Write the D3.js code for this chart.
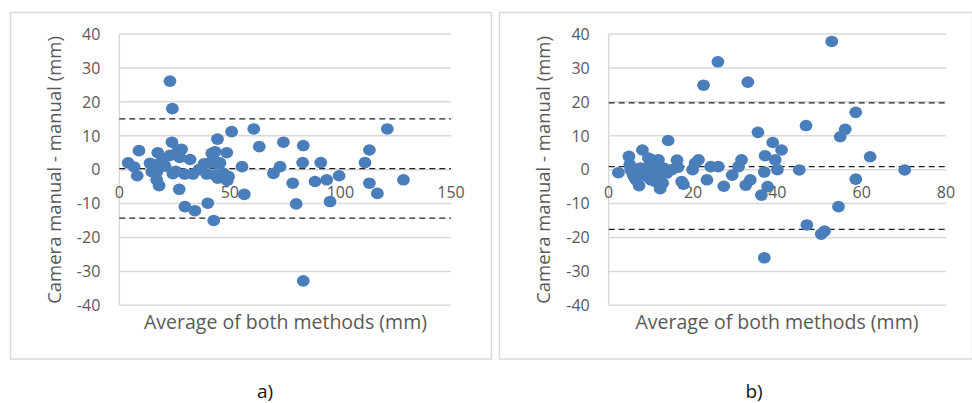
<!DOCTYPE html>
<html>
<head>
<meta charset="utf-8">
<script src="https://cdn.jsdelivr.net/npm/d3@7"></script>
<style>
  body { margin: 0; background: white; }
  text { font-family: "Open Sans", "Noto Sans", sans-serif; }
</style>
</head>
<body>
<div id="chart"></div>
<script>
// panel a) - average vs difference
var avgA = [4.0, 6.7, 8.1, 8.9, 13.9, 14.7, 17.4, 18.0, 16.9, 17.0, 19.9, 20.7, 22.9, 24.0, 23.8,
  22.9, 24.2, 25.5, 26.6, 27.3, 28.2, 27.1, 29.7, 29.5, 32.0, 34.2, 33.3, 38.3, 39.5, 40.0,
  41.0, 41.8, 42.5, 42.7, 43.3, 44.4, 43.3, 44.3, 45.5, 44.5, 48.6, 49.4, 48.8, 50.8, 55.5,
  56.5, 60.8, 63.3, 69.7, 72.7, 74.2, 78.4, 80.0, 83.2, 82.9, 83.2, 88.5, 91.1, 93.8, 95.3,
  99.4, 111.1, 113.1, 113.1, 116.7, 121.2, 128.5, 15.5, 36.0, 47.0, 18.5];
var diffA = [2.0, 0.8, -1.8, 5.6, 1.9, -0.6, 5.0, -4.7, -3.0, -0.6, 2.9, 1.0, 26.1, 18.0, 8.1,
  4.2, -1.2, -0.5, 5.8, 3.6, 6.0, -5.8, -10.9, -1.3, 3.0, -12.1, -1.3, 1.7, -1.3, -9.9,
  2.0, 4.8, 3.0, -15.0, 5.3, 9.0, -1.6, 1.7, 2.0, -2.5, 5.0, -2.0, -3.2, 11.2, 0.9,
  -7.3, 12.0, 6.8, -1.1, 0.9, 8.1, -4.0, -10.1, 7.1, 2.1, -32.8, -3.5, 2.1, -3.0, -9.4,
  -1.8, 2.1, 5.8, -4.0, -7.0, 12.0, -3.0, 1.0, 0.0, -1.0, 2.0];
var limitsA = [15.0, 0.3, -14.3];

// panel b)
var avgB = [2.3, 4.8, 5.0, 5.2, 5.8, 6.2, 7.2, 8.0, 9.4, 9.7, 10.2, 10.6, 11.4, 11.8, 11.8,
  12.2, 12.8, 13.0, 14.1, 13.8, 15.0, 16.2, 16.4, 17.3, 17.7, 8.5, 7.5, 11.0, 19.9, 20.5,
  21.3, 22.5, 23.3, 24.2, 25.9, 26.0, 27.3, 29.3, 30.8, 31.5, 32.5, 33.0, 33.6, 35.4, 36.2,
  36.9, 37.1, 36.9, 37.7, 38.9, 39.5, 40.0, 41.0, 45.2, 46.8, 47.0, 50.4, 51.2, 52.9, 54.5,
  54.9, 56.1, 58.6, 58.6, 62.0, 70.2, 9.0, 10.0, 12.0, 6.5];
var diffB = [-0.9, 3.9, 1.5, 0.0, -1.6, -2.5, -4.7, 5.8, 3.4, 1.3, 3.0, -0.6, 1.9, 2.9, -2.5,
  -5.6, -4.0, 0.5, 8.6, -1.0, 0.0, 2.8, 0.7, -3.5, -4.3, -1.0, 0.5, -3.5, 0.0, 1.9,
  2.9, 24.9, -3.0, 0.9, 31.8, 0.9, -4.9, -1.6, 0.9, 2.9, -4.6, 25.8, -3.0, 11.0, -7.5,
  -0.7, 4.1, -26.0, -5.0, 8.0, 2.9, 0.0, 5.8, -0.1, 13.0, -16.3, -19.0, -18.1, 37.8, -10.9,
  9.7, 11.9, 16.9, -2.8, 3.8, -0.1, -2.0, -3.0, -1.5, -3.0];
var limitsB = [19.7, 0.9, -17.6];

var yTicks = [-40, -30, -20, -10, 0, 10, 20, 30, 40];
var xTicksA = [0, 50, 100, 150];
var xTicksB = [0, 20, 40, 60, 80];
var xTitle = "Average of both methods (mm)";
var yTitle = "Camera manual - manual (mm)";

var width = 972, height = 403;
var textColor = "#595959";
var gridColor = "#d9d9d9";
var dotColor = "#4a7ebb";

var svg = d3.select("#chart")
  .append("svg")
  .attr("width", width)
  .attr("height", height);

function drawPanel(cfg) {
  var g = svg.append("g");

  // frame
  g.append("rect")
    .attr("x", cfg.frame[0] + 0.5)
    .attr("y", 12.5)
    .attr("width", cfg.frame[1] - cfg.frame[0])
    .attr("height", 346.5)
    .attr("fill", "white")
    .attr("stroke", gridColor)
    .attr("stroke-width", 1.5);

  var x = d3.scaleLinear().domain(cfg.xDomain).range(cfg.xRange);
  var y = d3.scaleLinear().domain([-40, 40]).range([305.3, 34]);

  // horizontal gridlines
  g.selectAll(".grid")
    .data(yTicks)
    .join("line")
    .attr("x1", cfg.xRange[0])
    .attr("x2", cfg.xRange[1])
    .attr("y1", (d) => y(d))
    .attr("y2", (d) => y(d))
    .attr("stroke", gridColor)
    .attr("stroke-width", 1.5);

  // vertical axis line
  g.append("line")
    .attr("x1", x(0)).attr("x2", x(0))
    .attr("y1", y(40)).attr("y2", y(-40))
    .attr("stroke", gridColor)
    .attr("stroke-width", 1.5);

  // y tick labels
  g.selectAll(".ylab")
    .data(yTicks)
    .join("text")
    .attr("x", x(0) - 19)
    .attr("y", (d) => y(d) + 5.8)
    .attr("text-anchor", "end")
    .attr("fill", textColor)
    .style("font-size", "16px")
    .text((d) => d);

  // x tick labels, sitting under the zero line
  g.selectAll(".xlab")
    .data(cfg.xTicks)
    .join("text")
    .attr("x", (d) => x(d))
    .attr("y", y(0) + 28.5)
    .attr("text-anchor", "middle")
    .attr("fill", textColor)
    .style("font-size", "16px")
    .text((d) => d);

  // limits of agreement
  g.selectAll(".limit")
    .data(cfg.limits)
    .join("line")
    .attr("x1", cfg.xRange[0])
    .attr("x2", cfg.xRange[1])
    .attr("y1", (d) => y(d))
    .attr("y2", (d) => y(d))
    .attr("stroke", "#222")
    .attr("stroke-width", 1.2)
    .attr("stroke-dasharray", "6,4");

  // points
  g.selectAll(".dot")
    .data(cfg.avg.map((v, i) => [v, cfg.diff[i]]))
    .join("ellipse")
    .attr("cx", (d) => x(d[0]))
    .attr("cy", (d) => y(d[1]))
    .attr("rx", 6.4)
    .attr("ry", 5.8)
    .attr("fill", dotColor);

  // axis titles
  g.append("text")
    .attr("x", cfg.xTitleX)
    .attr("y", 329)
    .attr("text-anchor", "middle")
    .attr("fill", textColor)
    .style("font-size", "19.5px")
    .text(xTitle);

  g.append("text")
    .attr("transform", "translate(" + (cfg.frame[0] + 51) + ",170) rotate(-90)")
    .attr("text-anchor", "middle")
    .attr("fill", textColor)
    .style("font-size", "18.5px")
    .text(yTitle);

  // panel letter
  svg.append("text")
    .attr("x", cfg.letterX)
    .attr("y", 398)
    .attr("text-anchor", "middle")
    .attr("fill", "#111")
    .style("font-size", "19px")
    .text(cfg.letter);
}

drawPanel({
  frame: [10, 491], xDomain: [0, 150], xRange: [119.3, 451], xTicks: xTicksA,
  avg: avgA, diff: diffA, limits: limitsA, xTitleX: 285.5, letter: "a)", letterX: 265
});

drawPanel({
  frame: [499, 972], xDomain: [0, 80], xRange: [608.7, 946], xTicks: xTicksB,
  avg: avgB, diff: diffB, limits: limitsB, xTitleX: 777, letter: "b)", letterX: 754
});
</script>
</body>
</html>
